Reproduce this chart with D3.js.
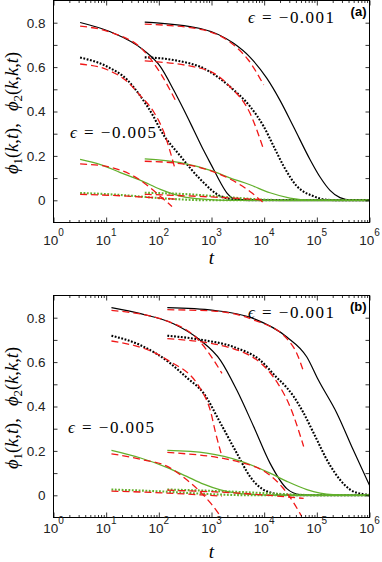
<!DOCTYPE html>
<html>
<head>
<meta charset="utf-8">
<script src="https://cdn.jsdelivr.net/npm/d3@7"></script>
<style>
	body { margin: 0; background: #fff; }
	svg  { display: block; }
	.tick-label { font-family: 'Liberation Sans', Arial, sans-serif; font-size: 13.5px; fill: #222; }
	.math       { font-family: 'Liberation Serif', 'DejaVu Serif', serif; fill: #000; }
	.panel-tag  { font-family: 'Liberation Sans', Arial, sans-serif; font-size: 13px; font-weight: bold; }
</style>
</head>
<body>
<div id="chart"></div>
<script>
/* values: [t, phi] */

// panel (a), early start
var aBlackSolid1 = [[3.2,0.801],[12,0.759],[51,0.677],[107,0.602],[190,0.498],[295,0.41],[457,0.318],[708,0.225],[1100,0.139],[1480,0.08],[1950,0.034],[3020,0.004],[10000,0],[1e6,0]];
var aBlackDot1   = [[3.2,0.643],[10.5,0.602],[25,0.543],[45,0.468],[79,0.378],[107,0.318],[257,0.199],[617,0.094],[1480,0.019],[3160,0.002],[10000,0],[1e6,0]];
var aGreenSolid1 = [[3.2,0.184],[7.8,0.161],[18.6,0.125],[45,0.09],[107,0.049],[257,0.019],[813,0.004],[2000,0],[1e6,0]];
var aGreenDot1   = [[3.2,0.033],[10,0.028],[32,0.02],[100,0.01],[316,0.003],[1000,0],[1e6,0]];
// panel (a), late start
var aBlackSolid2 = [[54,0.803],[617,0.774],[2630,0.707],[5370,0.645],[11200,0.55],[20000,0.45],[36300,0.33],[74100,0.184],[115000,0.105],[178000,0.045],[275000,0.012],[447000,0.001],[1e6,0]];
var aBlackDot2   = [[54,0.644],[190,0.632],[813,0.587],[2290,0.51],[5370,0.423],[9770,0.333],[15100,0.244],[23400,0.154],[41700,0.064],[85100,0.019],[158000,0.002],[316000,0],[1e6,0]];
var aGreenSolid2 = [[54,0.187],[257,0.170],[1100,0.13],[2290,0.10],[5370,0.07],[12900,0.034],[30900,0.01],[79400,0.001],[1e6,0]];
var aGreenDot2   = [[54,0.034],[316,0.028],[2630,0.012],[10000,0.003],[40000,0],[1e6,0]];
// panel (a), short time expansions (red dashed)
var aFitSolid1    = [[3.2,0.785],[12,0.757],[51,0.675],[107,0.573],[204,0.453]];
var aFitDot1      = [[3.2,0.614],[10.5,0.588],[25,0.535],[45,0.47],[79,0.40],[123,0.31],[204,0.14]];
var aFitGreen1    = [[3.2,0.164],[12,0.149],[45,0.09],[93,0.03],[178,-0.028]];
var aFitGreenDot1 = [[3.2,0.027],[20,0.02],[100,0.01],[204,0.005]];
var aFitSolid2    = [[54,0.794],[617,0.77],[2880,0.692],[5010,0.632],[9770,0.52]];
var aFitDot2      = [[54,0.628],[813,0.587],[2290,0.51],[5370,0.393],[9770,0.229]];
var aFitGreen2    = [[54,0.176],[257,0.165],[1100,0.128],[2290,0.095],[5370,0.04],[9770,-0.012]];
var aFitGreenDot2 = [[54,0.027],[1000,0.015],[9770,0.002]];

// panel (b), early start
var bBlackSolid1 = [[12.6,0.845],[45,0.818],[190,0.773],[617,0.698],[1480,0.608],[3020,0.474],[6310,0.31],[12900,0.145],[26900,0.03],[47900,0.003],[100000,0],[1e6,0]];
var bBlackDot1   = [[12.6,0.719],[45,0.676],[166,0.594],[339,0.53],[708,0.46],[1480,0.325],[3020,0.19],[5370,0.085],[11200,0.018],[25100,0.002],[63100,0],[1e6,0]];
var bGreenSolid1 = [[12.6,0.202],[45,0.168],[145,0.125],[339,0.085],[708,0.05],[1480,0.024],[3020,0.01],[7240,0.003],[20000,0],[1e6,0]];
var bGreenDot1   = [[12.6,0.026],[100,0.018],[1000,0.005],[3160,0.001],[10000,0],[1e6,0]];
// panel (b), late start
var bBlackSolid2 = [[145,0.845],[1100,0.833],[6310,0.796],[26900,0.713],[64600,0.623],[107000,0.519],[240000,0.37],[490000,0.205],[1e6,0.045]];
var bBlackDot2   = [[145,0.719],[617,0.701],[2630,0.668],[8320,0.609],[17400,0.53],[26900,0.485],[36300,0.445],[56200,0.37],[85100,0.285],[178000,0.135],[427000,0.026],[759000,0.005],[1e6,0.002]];
var bGreenSolid2 = [[145,0.202],[813,0.19],[3800,0.152],[12900,0.10],[26900,0.063],[64600,0.026],[204000,0.003],[500000,0],[1e6,0]];
var bGreenDot2   = [[145,0.026],[1000,0.02],[10000,0.01],[50000,0.002],[158000,0],[1e6,0]];
// panel (b), short time expansions (red dashed)
var bFitSolid1    = [[12.6,0.833],[145,0.785],[617,0.69],[1100,0.609],[1580,0.549]];
var bFitDot1      = [[12.6,0.695],[145,0.61],[617,0.48],[955,0.38],[1200,0.28],[1580,0.175]];
var bFitGreen1    = [[12.6,0.187],[45,0.162],[145,0.13],[339,0.07],[617,0.015],[1000,-0.04],[1550,-0.1]];
var bFitGreenDot1 = [[12.6,0.019],[145,0.01],[1580,-0.004]];
var bFitSolid2    = [[145,0.836],[1100,0.83],[6310,0.79],[26900,0.706],[41700,0.639],[56200,0.556]];
var bFitDot2      = [[145,0.706],[2630,0.66],[18600,0.50],[30900,0.40],[56200,0.22]];
var bFitGreen2    = [[145,0.193],[3800,0.147],[12900,0.09],[22400,0.035],[35500,-0.03],[51300,-0.094]];
var bFitGreenDot2 = [[145,0.023],[3160,0.01],[56200,-0.014]];

// axes
var tDomain      = [1, 1e6];
var tDecades     = [0, 1, 2, 3, 4, 5, 6];
var phiDomain    = [-0.1, 0.9];
var phiTicks     = [0, 0.1, 0.2, 0.3, 0.4, 0.5, 0.6, 0.7, 0.8];
var phiLabels    = [0, 0.2, 0.4, 0.6, 0.8];
var epsLabels    = ['\u2212' + '0.001', '\u2212' + '0.005'];

var styles = {
	blackSolid: { stroke: '#000',    width: 1.2, dash: null },
	blackDot:   { stroke: '#000',    width: 2.1, dash: '1.8,1.6' },
	greenSolid: { stroke: '#62b02c', width: 1.3, dash: null },
	greenDot:   { stroke: '#62b02c', width: 2.1, dash: '1.8,1.6' },
	fit:        { stroke: '#f01818', width: 1.3, dash: '7,4' }
};

function PhiPanel(config) {
	var me = this;
	Object.keys(config).forEach(function(k) { me[k] = config[k]; });
	me.initScales();
	me.drawCurves();
	me.drawAxes();
	me.drawLabels();
}

PhiPanel.prototype.initScales = function() {
	var me = this;
	me.xScale = d3.scaleLog().domain(tDomain).range([me.left, me.right]);
	me.yScale = d3.scaleLinear().domain(phiDomain).range([me.bottom, me.top]);
	me.clipId = 'clip-' + me.name;
	me.svg.append('clipPath').attr('id', me.clipId)
		.append('rect')
		.attr('x', me.left).attr('y', me.top)
		.attr('width', me.right - me.left).attr('height', me.bottom - me.top);
}

PhiPanel.prototype.drawCurves = function() {
	var me = this;
	var line = d3.line()
		.x(function(d) { return me.xScale(d[0]); })
		.y(function(d) { return me.yScale(d[1]); })
		.curve(d3.curveMonotoneX);

	me.svg.append('g')
		.attr('clip-path', 'url(#' + me.clipId + ')')
		.selectAll('path')
		.data(me.curves)
		.enter().append('path')
			.attr('d', function(d) { return line(d.data); })
			.attr('fill', 'none')
			.attr('stroke',           function(d) { return styles[d.style].stroke; })
			.attr('stroke-width',     function(d) { return styles[d.style].width; })
			.attr('stroke-dasharray', function(d) { return styles[d.style].dash; });
}

PhiPanel.prototype.drawAxes = function() {
	var me = this;
	var minor = [];
	tDecades.slice(0, -1).forEach(function(e) {
		for (var m = 2; m < 10; m++) minor.push(m * Math.pow(10, e));
	});
	var major = tDecades.map(function(e) { return Math.pow(10, e); });

	function ticks(axis, size, values) {
		return axis.tickValues(values).tickSizeInner(-size).tickSizeOuter(0).tickFormat('');
	}
	var specs = [
		[d3.axisBottom(me.xScale), 'translate(0,' + me.bottom + ')', 5,   major],
		[d3.axisBottom(me.xScale), 'translate(0,' + me.bottom + ')', 2.5, minor],
		[d3.axisTop(me.xScale),    'translate(0,' + me.top + ')',    5,   major],
		[d3.axisTop(me.xScale),    'translate(0,' + me.top + ')',    2.5, minor],
		[d3.axisLeft(me.yScale),   'translate(' + me.left + ',0)',   4,   phiTicks],
		[d3.axisRight(me.yScale),  'translate(' + me.right + ',0)',  4,   phiTicks]
	];
	specs.forEach(function(s) {
		var g = me.svg.append('g').attr('transform', s[1]).call(ticks(s[0], s[2], s[3]));
		g.select('.domain').remove();
		g.selectAll('line').attr('stroke', '#000').attr('stroke-width', 0.8);
	});

	me.svg.append('rect')
		.attr('x', me.left).attr('y', me.top)
		.attr('width', me.right - me.left).attr('height', me.bottom - me.top)
		.attr('fill', 'none').attr('stroke', '#000').attr('stroke-width', 1);

	// tick labels
	me.svg.append('g').selectAll('text')
		.data(phiLabels)
		.enter().append('text')
			.attr('class', 'tick-label')
			.attr('text-anchor', 'end')
			.attr('x', me.left - 8)
			.attr('y', function(d) { return me.yScale(d); })
			.attr('dy', '0.36em')
			.text(function(d) { return d === 0 ? '0' : d3.format('.1f')(d); });

	var xl = me.svg.append('g').selectAll('text')
		.data(tDecades)
		.enter().append('text')
			.attr('class', 'tick-label')
			.attr('text-anchor', 'middle')
			.attr('x', function(d) { return me.xScale(Math.pow(10, d)); })
			.attr('y', me.tickLabelY);
	xl.append('tspan').text('10');
	xl.append('tspan').attr('font-size', '10px').attr('dy', -9).text(function(d) { return d; });
}

PhiPanel.prototype.mathText = function(parts, attrs) {
	var txt = this.svg.append('text').attr('class', 'math');
	Object.keys(attrs).forEach(function(k) { txt.attr(k, attrs[k]); });
	var shift = 0;
	parts.forEach(function(p) {
		var ts = txt.append('tspan').text(p.s);
		if (p.it)  ts.attr('font-style', 'italic');
		if (p.dx)  ts.attr('dx', p.dx);
		var target = p.sub ? 4 : 0;
		if (p.sub) ts.attr('font-size', '0.7em');
		if (target !== shift) { ts.attr('dy', target - shift); shift = target; }
	});
	return txt;
}

PhiPanel.prototype.drawLabels = function() {
	var me = this;
	var cx = (me.left + me.right) / 2;

	me.mathText([{ s: 't', it: true }],
		{ x: cx, y: me.tLabelY, 'text-anchor': 'middle', 'font-size': 19 });

	me.mathText([
		{ s: '\u03d5', it: true }, { s: '1', sub: true }, { s: '(' }, { s: 'k', it: true }, { s: ',' },
		{ s: 't', it: true }, { s: '),' },
		{ s: '\u03d5', it: true, dx: 12 }, { s: '2', sub: true }, { s: '(' }, { s: 'k', it: true }, { s: ',' },
		{ s: 'k', it: true }, { s: ',' }, { s: 't', it: true }, { s: ')' }
	], { 'text-anchor': 'middle', 'font-size': 18.5,
		transform: 'translate(17.5,' + me.yLabelY + ') rotate(-90)' });

	me.eps.forEach(function(e, i) {
		me.mathText([{ s: '\u03f5', it: true }, { s: ' = ' + epsLabels[i] }],
			{ x: e[0], y: e[1], 'font-size': 17, textLength: 86, lengthAdjust: 'spacing' });
	});

	me.svg.append('text')
		.attr('class', 'panel-tag')
		.attr('text-anchor', 'end')
		.attr('x', me.right - 3)
		.attr('y', me.tagY)
		.text(me.tag);
}

var svg = d3.select('#chart').append('svg')
	.attr('width', 382)
	.attr('height', 562);

function curveSet(list) {
	return list.map(function(c) { return { data: c[0], style: c[1] }; });
}

new PhiPanel({
	svg: svg, name: 'a', tag: '(a)',
	left: 53.5, right: 369.5, top: 0.5, bottom: 222.5,
	tickLabelY: 245, tLabelY: 264, yLabelY: 113, tagY: 16,
	eps: [[248, 23], [70, 138]],
	curves: curveSet([
		[aBlackSolid1, 'blackSolid'], [aBlackSolid2, 'blackSolid'],
		[aBlackDot1, 'blackDot'],     [aBlackDot2, 'blackDot'],
		[aGreenSolid1, 'greenSolid'], [aGreenSolid2, 'greenSolid'],
		[aGreenDot1, 'greenDot'],     [aGreenDot2, 'greenDot'],
		[aFitSolid1, 'fit'], [aFitDot1, 'fit'], [aFitGreen1, 'fit'], [aFitGreenDot1, 'fit'],
		[aFitSolid2, 'fit'], [aFitDot2, 'fit'], [aFitGreen2, 'fit'], [aFitGreenDot2, 'fit']
	])
});

new PhiPanel({
	svg: svg, name: 'b', tag: '(b)',
	left: 53.5, right: 369.5, top: 295.5, bottom: 517.5,
	tickLabelY: 533, tLabelY: 558, yLabelY: 408, tagY: 310.5,
	eps: [[248, 318], [68, 433]],
	curves: curveSet([
		[bBlackSolid1, 'blackSolid'], [bBlackSolid2, 'blackSolid'],
		[bBlackDot1, 'blackDot'],     [bBlackDot2, 'blackDot'],
		[bGreenSolid1, 'greenSolid'], [bGreenSolid2, 'greenSolid'],
		[bGreenDot1, 'greenDot'],     [bGreenDot2, 'greenDot'],
		[bFitSolid1, 'fit'], [bFitDot1, 'fit'], [bFitGreen1, 'fit'], [bFitGreenDot1, 'fit'],
		[bFitSolid2, 'fit'], [bFitDot2, 'fit'], [bFitGreen2, 'fit'], [bFitGreenDot2, 'fit']
	])
});
</script>
</body>
</html>
